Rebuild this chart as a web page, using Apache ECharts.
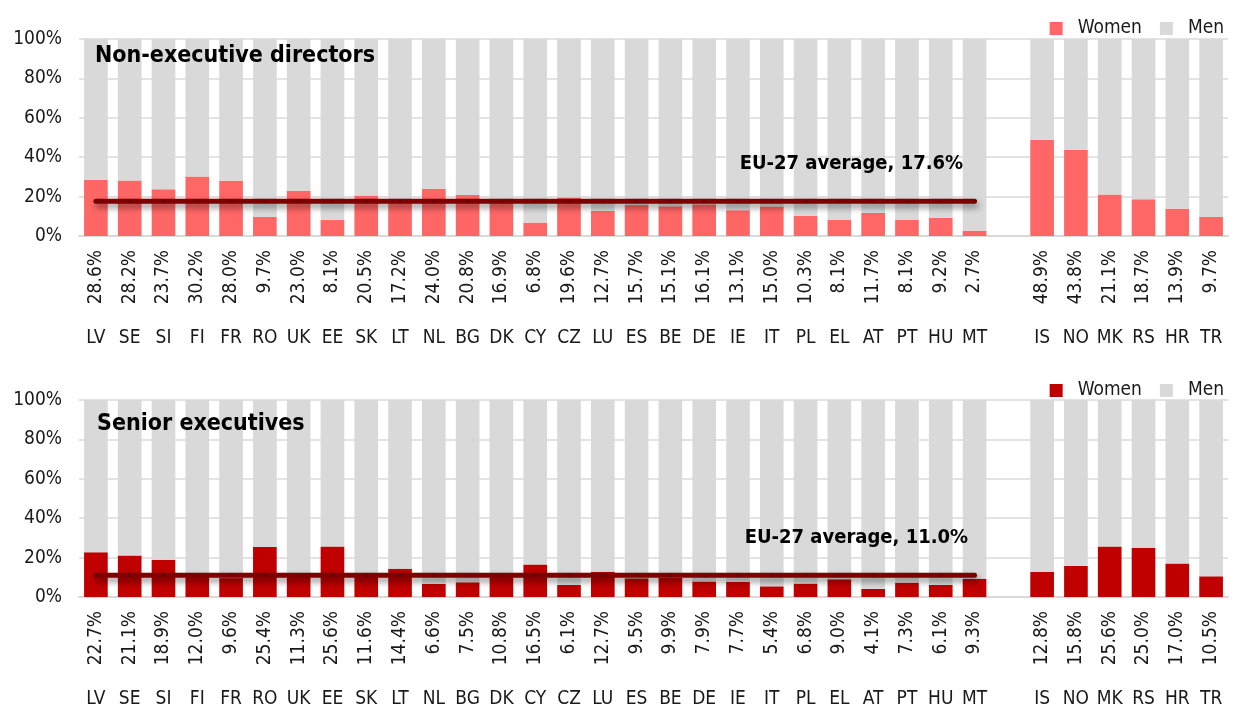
<!DOCTYPE html>
<html>
<head>
<meta charset="utf-8">
<script src="https://cdn.jsdelivr.net/npm/echarts@6/dist/echarts.min.js"></script>
<style>
  html, body { margin: 0; padding: 0; background: #fff; }
  #chart { width: 1236px; height: 706px; }
</style>
</head>
<body>
<div id="chart"></div>
<script>
// categories: EU-27 countries, an empty gap, then non-EU countries
const countries = ['LV','SE','SI','FI','FR','RO','UK','EE','SK','LT','NL','BG','DK','CY','CZ','LU','ES','BE','DE','IE','IT','PL','EL','AT','PT','HU','MT','','IS','NO','MK','RS','HR','TR'];
const euCount = 27;

// share of women (%)
const nonExecWomen = [28.6,28.2,23.7,30.2,28.0,9.7,23.0,8.1,20.5,17.2,24.0,20.8,16.9,6.8,19.6,12.7,15.7,15.1,16.1,13.1,15.0,10.3,8.1,11.7,8.1,9.2,2.7,null,48.9,43.8,21.1,18.7,13.9,9.7];
const seniorWomen = [22.7,21.1,18.9,12.0,9.6,25.4,11.3,25.6,11.6,14.4,6.6,7.5,10.8,16.5,6.1,12.7,9.5,9.9,7.9,7.7,5.4,6.8,9.0,4.1,7.3,6.1,9.3,null,12.8,15.8,25.6,25.0,17.0,10.5];

const nonExecAvg = 17.6;
const seniorAvg = 11.0;

const yTicks = [0, 20, 40, 60, 80, 100];

const FONT = '"DejaVu Sans Condensed", "DejaVu Sans", sans-serif';
const TXT = '#1a1a1a';

// men = remainder up to 100%
const men = arr => arr.map(v => v == null ? null : +(100 - v).toFixed(1));
const avgLine = (avg, labelText, offX) => countries.map((c, i) => {
  if (i >= euCount) return '-';
  if (i === 22) {
    return {
      value: avg,
      label: {
        show: true, position: 'top', distance: 26, offset: [offX, 0],
        formatter: labelText,
        fontFamily: FONT, fontWeight: 'bold', fontSize: 20, color: '#000'
      }
    };
  }
  return avg;
});

function xAxesFor(gridIndex, women) {
  return [
    {
      type: 'category', gridIndex: gridIndex, data: countries, position: 'bottom',
      axisLine: { show: true, lineStyle: { color: '#d9d9d9', width: 2 } },
      axisTick: { show: false },
      axisLabel: {
        interval: 0, rotate: 90, margin: 14,
        fontFamily: FONT, fontSize: 19, color: TXT,
        formatter: (v, i) => women[i] == null ? '' : women[i].toFixed(1) + '%'
      }
    },
    {
      type: 'category', gridIndex: gridIndex, data: countries, position: 'bottom', offset: 85,
      axisLine: { show: false }, axisTick: { show: false },
      axisLabel: { interval: 0, margin: 8, fontFamily: FONT, fontSize: 19, color: TXT }
    }
  ];
}

function yAxisFor(gridIndex) {
  return {
    type: 'value', gridIndex: gridIndex, min: 0, max: 100, interval: 20,
    axisLine: { show: false }, axisTick: { show: false },
    splitLine: { show: true, lineStyle: { color: '#e3e3e3', width: 2 } },
    axisLabel: {
      margin: 17, fontFamily: FONT, fontSize: 19, color: TXT,
      formatter: v => yTicks.includes(v) ? v + '%' : ''
    }
  };
}

function seriesFor(axisBase, gridIndex, women, womenColor, avg, avgText, offX) {
  return [
    {
      name: 'Women', type: 'bar', stack: 's' + gridIndex,
      xAxisIndex: axisBase, yAxisIndex: gridIndex,
      barWidth: '70%', itemStyle: { color: womenColor }, data: women
    },
    {
      name: 'Men', type: 'bar', stack: 's' + gridIndex,
      xAxisIndex: axisBase, yAxisIndex: gridIndex,
      barWidth: '70%', itemStyle: { color: '#d9d9d9' }, data: men(women)
    },
    {
      name: 'EU-27 average', type: 'line', xAxisIndex: axisBase, yAxisIndex: gridIndex,
      data: avgLine(avg, avgText, offX), z: 5,
      symbol: 'circle', symbolSize: 4,
      itemStyle: { color: '#6e0000' },
      lineStyle: {
        color: '#7f0000', width: 5, cap: 'round',
        shadowColor: 'rgba(0,0,0,0.45)', shadowBlur: 6, shadowOffsetX: 2, shadowOffsetY: 4
      },
      emphasis: { disabled: true }
    }
  ];
}

function legendFor(top, womenColor) {
  return {
    top: top, right: 7, itemGap: 18, itemWidth: 13, itemHeight: 13, icon: 'rect',
    selectedMode: false,
    textStyle: { fontFamily: FONT, fontSize: 19, color: TXT, padding: [0, 0, 0, 10] },
    data: [
      { name: 'Women', itemStyle: { color: womenColor } },
      { name: 'Men', itemStyle: { color: '#d9d9d9' } }
    ]
  };
}

const titleStyle = { fontFamily: FONT, fontWeight: 'bold', fontSize: 23, color: '#000' };

const chart = echarts.init(document.getElementById('chart'));
chart.setOption({
  animation: false,
  title: [
    { text: 'Non-executive directors', left: 95, top: 45, padding: 0, textStyle: titleStyle },
    { text: 'Senior executives', left: 97, top: 413, padding: 0, textStyle: titleStyle }
  ],
  legend: [legendFor(14, '#ff6666'), legendFor(376, '#c00000')],
  grid: [
    { left: 79, right: 8, top: 39, height: 197, outerBoundsMode: 'none' },
    { left: 79, right: 8, top: 400, height: 197, outerBoundsMode: 'none' }
  ],
  xAxis: [...xAxesFor(0, nonExecWomen), ...xAxesFor(1, seniorWomen)],
  yAxis: [yAxisFor(0), yAxisFor(1)],
  series: [
    ...seriesFor(0, 0, nonExecWomen, '#ff6666', nonExecAvg, 'EU-27 average, 17.6%', 12),
    ...seriesFor(2, 1, seniorWomen, '#c00000', seniorAvg, 'EU-27 average, 11.0%', 17)
  ]
});
</script>
</body>
</html>
